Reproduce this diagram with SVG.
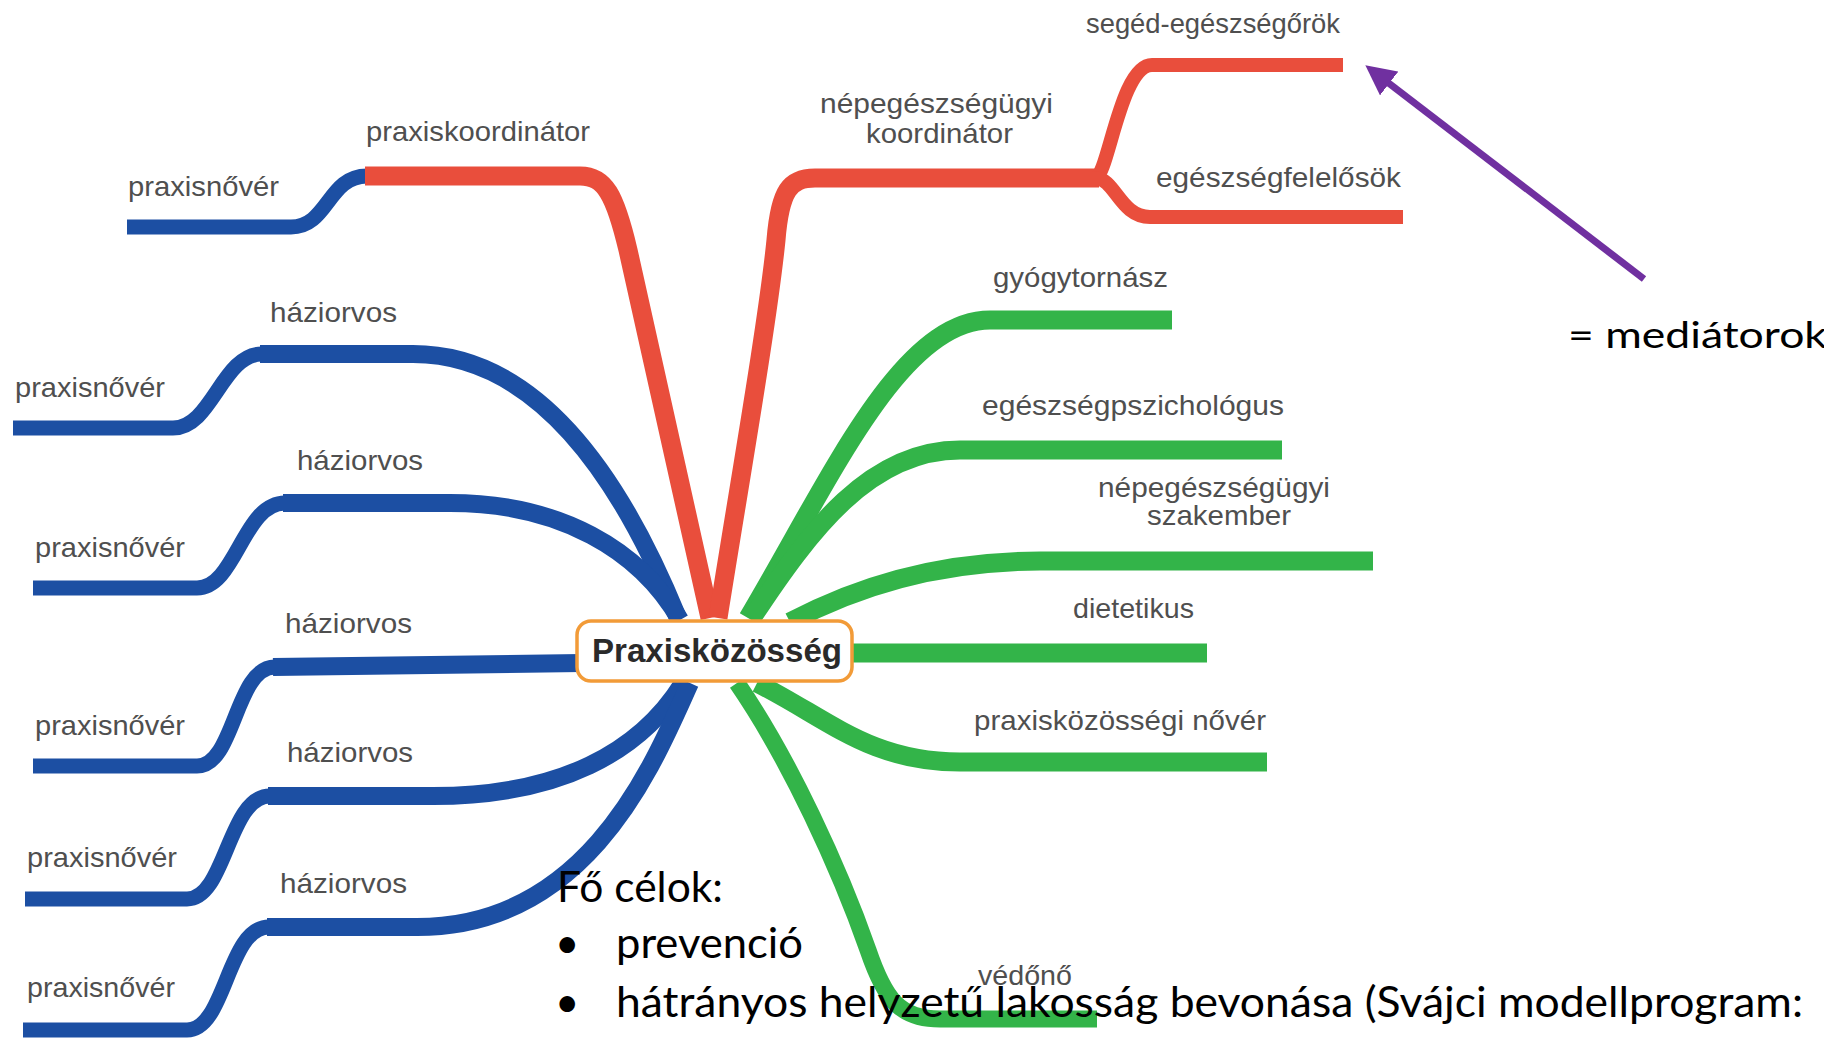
<svg xmlns="http://www.w3.org/2000/svg" width="1824" height="1038" viewBox="0 0 1824 1038">
<defs>
<style>
.ln{fill:none;stroke-linecap:butt;stroke-linejoin:round}
.b{stroke:#1c4fa3;stroke-width:18}
.bs{stroke:#1c4fa3;stroke-width:15}
.r{stroke:#e94e3c;stroke-width:19}
.rs{stroke:#e94e3c;stroke-width:14}
.g{stroke:#33b449;stroke-width:19}
.gs{stroke:#33b449;stroke-width:17}
.lbl{font-family:"Liberation Sans",Arial,sans-serif;font-size:28px;fill:#4f4f4f}
.blk{font-family:Lato,"Open Sans","Liberation Sans",sans-serif;fill:#000}
</style>
<marker id="ah" viewBox="0 0 10 10" refX="3" refY="5" markerWidth="30" markerHeight="30" markerUnits="userSpaceOnUse" orient="auto">
<path d="M0,0 L10,5 L0,10 z" fill="#7030a0"/>
</marker>
</defs>
<rect width="1824" height="1038" fill="#ffffff"/>
<g id="connectors">
<path class="ln b" d="M 678 618 C 628 495 545 354 413 354 L 260 354"/>
<path class="ln bs" d="M 262 354 C 222 354 212 428 173 428 L 13 428"/>
<path class="ln b" d="M 680 620 C 640 550 560 503 450 503 L 283 503"/>
<path class="ln bs" d="M 285 503 C 243 503 236 588 197 588 L 33 588"/>
<path class="ln b" d="M 582 663 L 273 667"/>
<path class="ln bs" d="M 275 667 C 235 667 235 766 197 766 L 33 766"/>
<path class="ln b" d="M 683 683 C 640 752 560 796 433 796 L 268 796"/>
<path class="ln bs" d="M 270 796 C 228 796 226 899 187 899 L 25 899"/>
<path class="ln b" d="M 690 683 C 655 760 590 927 417 927 L 267 927"/>
<path class="ln bs" d="M 269 927 C 227 927 226 1030 187 1030 L 23 1030"/>
<path class="ln bs" d="M 367 176 C 328 176 328 227 291 227 L 127 227"/>
<path class="ln r" d="M 710 618 L 628 250 C 615 195 605 176 580 176 L 365 176"/>
<path class="ln r" d="M 718 618 C 740 480 768 320 776 240 C 780 190 790 178 815 178 L 1099 178"/>
<path class="ln rs" d="M 1095 178 C 1108 178 1120 65 1152 65 L 1343 65"/>
<path class="ln rs" d="M 1095 178 C 1115 178 1120 217 1150 217 L 1403 217"/>
<path class="ln g" d="M 748 618 C 830 480 900 320 990 320 L 1172 320"/>
<path class="ln g" d="M 752 618 C 810 530 870 450 960 450 L 1282 450"/>
<path class="ln g" d="M 790 622 C 850 590 930 561 1040 561 L 1373 561"/>
<path class="ln g" d="M 848 653 L 1207 653"/>
<path class="ln g" d="M 757 683 C 830 720 870 762 960 762 L 1267 762"/>
<path class="ln gs" d="M 737 683 C 790 760 840 870 868 950 C 885 1000 900 1019 940 1019 L 1097 1019"/>
<line x1="1644" y1="279" x2="1382" y2="78" stroke="#7030a0" stroke-width="7" marker-end="url(#ah)"/>
</g>
<g id="node-praxiskozosseg">
<rect x="577" y="621" width="275" height="60" rx="14" fill="#ffffff" stroke="#f29b38" stroke-width="3.5"/>
<text x="592" y="662" font-family="'Liberation Sans',Arial,sans-serif" font-size="33" font-weight="bold" fill="#2a2a2a" textLength="250" lengthAdjust="spacingAndGlyphs">Praxisközösség</text>
</g>
<g id="node-praxiskoordinator"><text class="lbl" x="366" y="141" textLength="224" lengthAdjust="spacingAndGlyphs">praxiskoordinátor</text></g>
<g id="node-praxisnover-1"><text class="lbl" x="128" y="196" textLength="151" lengthAdjust="spacingAndGlyphs">praxisnővér</text></g>
<g id="node-nepeg-koordinator"><text class="lbl" x="820" y="113" textLength="233" lengthAdjust="spacingAndGlyphs">népegészségügyi</text><text class="lbl" x="866" y="143" textLength="147" lengthAdjust="spacingAndGlyphs">koordinátor</text></g>
<g id="node-seged-egeszsegorok"><text class="lbl" x="1086" y="33" textLength="254" lengthAdjust="spacingAndGlyphs">segéd-egészségőrök</text></g>
<g id="node-egeszsegfelelosok"><text class="lbl" x="1156" y="187" textLength="245" lengthAdjust="spacingAndGlyphs">egészségfelelősök</text></g>
<g id="node-gyogytornasz"><text class="lbl" x="993" y="287" textLength="175" lengthAdjust="spacingAndGlyphs">gyógytornász</text></g>
<g id="node-egeszsegpszichologus"><text class="lbl" x="982" y="415" textLength="302" lengthAdjust="spacingAndGlyphs">egészségpszichológus</text></g>
<g id="node-nepeg-szakember"><text class="lbl" x="1098" y="497" textLength="232" lengthAdjust="spacingAndGlyphs">népegészségügyi</text><text class="lbl" x="1147" y="525" textLength="144" lengthAdjust="spacingAndGlyphs">szakember</text></g>
<g id="node-dietetikus"><text class="lbl" x="1073" y="618" textLength="121" lengthAdjust="spacingAndGlyphs">dietetikus</text></g>
<g id="node-pk-nover"><text class="lbl" x="974" y="730" textLength="292" lengthAdjust="spacingAndGlyphs">praxisközösségi nővér</text></g>
<g id="node-vedono"><text class="lbl" x="978" y="985" textLength="94" lengthAdjust="spacingAndGlyphs">védőnő</text></g>
<g id="node-haziorvos-1"><text class="lbl" x="270" y="322" textLength="127" lengthAdjust="spacingAndGlyphs">háziorvos</text></g>
<g id="node-praxisnover-2"><text class="lbl" x="15" y="397" textLength="150" lengthAdjust="spacingAndGlyphs">praxisnővér</text></g>
<g id="node-haziorvos-2"><text class="lbl" x="297" y="470" textLength="126" lengthAdjust="spacingAndGlyphs">háziorvos</text></g>
<g id="node-praxisnover-3"><text class="lbl" x="35" y="557" textLength="150" lengthAdjust="spacingAndGlyphs">praxisnővér</text></g>
<g id="node-haziorvos-3"><text class="lbl" x="285" y="633" textLength="127" lengthAdjust="spacingAndGlyphs">háziorvos</text></g>
<g id="node-praxisnover-4"><text class="lbl" x="35" y="735" textLength="150" lengthAdjust="spacingAndGlyphs">praxisnővér</text></g>
<g id="node-haziorvos-4"><text class="lbl" x="287" y="762" textLength="126" lengthAdjust="spacingAndGlyphs">háziorvos</text></g>
<g id="node-praxisnover-5"><text class="lbl" x="27" y="867" textLength="150" lengthAdjust="spacingAndGlyphs">praxisnővér</text></g>
<g id="node-haziorvos-5"><text class="lbl" x="280" y="893" textLength="127" lengthAdjust="spacingAndGlyphs">háziorvos</text></g>
<g id="node-praxisnover-6"><text class="lbl" x="27" y="997" textLength="148" lengthAdjust="spacingAndGlyphs">praxisnővér</text></g>
<g id="note-mediatorok"><text class="blk" x="1568" y="348" font-size="37" textLength="259" lengthAdjust="spacingAndGlyphs">= mediátorok</text></g>
<g id="note-celok">
<text class="blk" x="557" y="902" font-size="42" textLength="166" lengthAdjust="spacingAndGlyphs">Fő célok:</text>
<text class="blk" x="555" y="958" font-size="42">•</text>
<text class="blk" x="616" y="958" font-size="42" textLength="187" lengthAdjust="spacingAndGlyphs">prevenció</text>
<text class="blk" x="555" y="1017" font-size="42">•</text>
<text class="blk" x="616" y="1017" font-size="42" textLength="1187" lengthAdjust="spacingAndGlyphs">hátrányos helyzetű lakosság bevonása (Svájci modellprogram:</text>
</g>
</svg>
